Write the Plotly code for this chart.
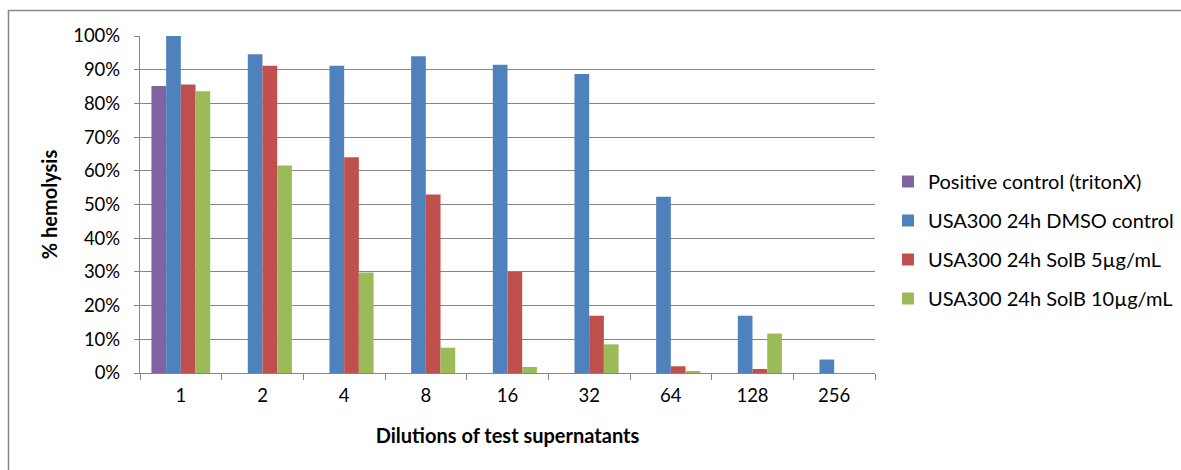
import plotly.graph_objects as go

categories = ["1", "2", "4", "8", "16", "32", "64", "128", "256"]
positive_control = [0.852, None, None, None, None, None, None, None, None]
dmso_control = [1.00, 0.946, 0.912, 0.940, 0.915, 0.887, 0.523, 0.170, 0.040]
solb_5 = [0.856, 0.912, 0.640, 0.530, 0.300, 0.170, 0.020, 0.012, 0.0]
solb_10 = [0.836, 0.616, 0.298, 0.075, 0.018, 0.085, 0.005, 0.117, 0.0]

series_names = [
    "Positive control (tritonX)",
    "USA300 24h DMSO control",
    "USA300 24h SolB 5µg/mL",
    "USA300 24h SolB 10µg/mL",
]
series_values = [positive_control, dmso_control, solb_5, solb_10]
colors = ["#8064A2", "#4F81BD", "#C0504D", "#9BBB59"]

FONT = "Lato"

fig = go.Figure()
for name, vals, c in zip(series_names, series_values, colors):
    fig.add_trace(go.Bar(
        x=categories, y=vals, name=name, legendgroup=name,
        marker=dict(color=c, line=dict(width=0)),
    ))

W, H = 1181, 470
L, R, T, B = 140, 1181 - 875, 36, 470 - 373
pw, ph = W - L - R, H - T - B

def px_x(p):
    return (p - L) / pw

def px_y(p):
    return (H - B - p) / ph

fig.update_layout(
    width=W, height=H,
    margin=dict(l=L, r=R, t=T, b=B, pad=0, autoexpand=False),
    paper_bgcolor="white", plot_bgcolor="white",
    barmode="group", bargap=0.28, bargroupgap=0,
    font=dict(family=FONT, size=18, color="black"),
    showlegend=True,
    legend=dict(
        x=px_x(888), xanchor="left", y=px_y(240), yanchor="middle",
        traceorder="grouped", tracegroupgap=10,
        font=dict(family=FONT, size=20, color="black"),
        itemwidth=30, bgcolor="rgba(0,0,0,0)",
    ),
    xaxis=dict(
        type="category", tickson="boundaries", ticks="outside", ticklen=6,
        tickcolor="#868686", showline=True, linecolor="#868686", linewidth=1.2,
        showgrid=False, tickfont=dict(family=FONT, size=18.5),
        ticklabelstandoff=6, automargin=False,
        title=dict(text="<b>Dilutions of test supernatants</b>",
                   font=dict(family=FONT, size=20), standoff=23),
    ),
    yaxis=dict(
        range=[0, 1], dtick=0.1, tickformat=".0%", ticks="outside", ticklen=5,
        tickcolor="#868686", showline=True, linecolor="#868686", linewidth=1.2,
        showgrid=True, gridcolor="#868686", gridwidth=1.2,
        zeroline=False, tickfont=dict(family=FONT, size=18.5),
        ticklabelstandoff=10, automargin=False,
        title=dict(text="<b>% hemolysis</b>", font=dict(family=FONT, size=20),
                   standoff=10),
    ),
    shapes=[dict(
        type="rect", xref="paper", yref="paper",
        x0=px_x(8.5), x1=px_x(1200), y0=px_y(490), y1=px_y(10.5),
        line=dict(color="#878787", width=1.5), fillcolor="rgba(0,0,0,0)",
        layer="below",
    )],
)

fig.write_html("out.html", config={"displayModeBar": False},
               post_script="document.body.style.margin='0px';")
